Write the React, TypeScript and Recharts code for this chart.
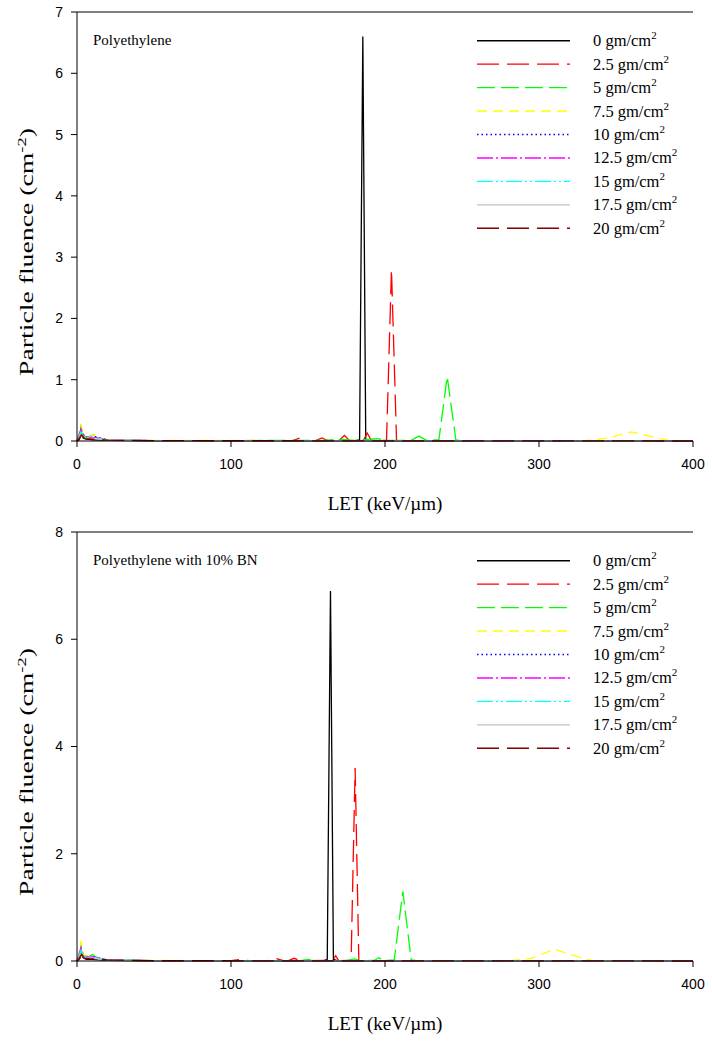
import React from 'react';
import { LineChart, Line, XAxis, YAxis, Legend, ReferenceLine } from 'recharts';

type Pt = [number, number];

// ---------- categories / labels ----------
const depthLabels = ['0', '2.5', '5', '7.5', '10', '12.5', '15', '17.5', '20'];
const xTicks = [0, 100, 200, 300, 400];
const topYTicks = [0, 1, 2, 3, 4, 5, 6, 7];
const bottomYTicks = [0, 2, 4, 6, 8];

// ---------- Polyethylene (LET keV/um, fluence cm^-2) ----------
const pe0: Pt[] = [[0, 0], [1.5, 0.02], [2.5, 0.12], [4, 0.05], [6, 0.03], [10, 0.02], [20, 0.01], [40, 0.005], [100, 0.003], [180, 0.003], [183.5, 0.02], [185.6, 6.6], [187.5, 0.02], [190, 0], [400, 0]];
const pe25: Pt[] = [[0, 0], [2, 0.05], [3, 0.15], [5, 0.07], [8, 0.05], [12, 0.04], [20, 0.015], [50, 0.005], [140, 0.005], [145, 0.05], [150, 0.005], [155, 0.005], [159, 0.05], [163, 0.005], [170, 0.005], [173.7, 0.09], [177, 0.005], [186, 0.01], [188.5, 0.13], [191, 0.01], [201, 0.01], [204.2, 2.8], [207.5, 0.01], [215, 0], [400, 0]];
const pe5: Pt[] = [[0, 0], [2, 0.08], [2.7, 0.27], [4, 0.08], [7, 0.06], [11, 0.1], [14, 0.03], [25, 0.01], [60, 0.005], [160, 0.01], [170, 0.03], [180, 0.01], [195, 0.04], [200, 0.01], [217, 0.01], [222, 0.08], [227, 0.01], [235, 0.02], [240.4, 1.05], [246, 0.02], [250, 0], [400, 0]];
const pe75: Pt[] = [[0, 0], [2.7, 0.27], [4, 0.1], [8, 0.06], [11, 0.1], [15, 0.03], [30, 0.01], [240, 0.005], [330, 0.005], [345, 0.05], [360, 0.15], [375, 0.06], [385, 0.005], [400, 0]];
const pe10: Pt[] = [[0, 0], [2.5, 0.15], [4, 0.08], [8, 0.05], [12, 0.07], [20, 0.02], [50, 0.005], [400, 0]];
const pe125: Pt[] = [[0, 0], [2.6, 0.2], [4, 0.1], [8, 0.06], [12, 0.06], [20, 0.02], [50, 0.005], [400, 0]];
const pe15: Pt[] = [[0, 0], [2.6, 0.15], [4, 0.08], [8, 0.05], [12, 0.05], [20, 0.02], [50, 0.005], [400, 0]];
const pe175: Pt[] = [[0, 0], [2.5, 0.1], [5, 0.05], [10, 0.04], [20, 0.02], [50, 0.005], [400, 0]];
const pe20: Pt[] = [[0, 0], [3, 0.1], [5, 0.04], [10, 0.03], [20, 0.015], [50, 0.005], [400, 0]];

// ---------- Polyethylene with 10% BN ----------
const bn0: Pt[] = [[0, 0], [1.5, 0.03], [2.5, 0.15], [4, 0.06], [6, 0.03], [10, 0.03], [20, 0.01], [50, 0.005], [160, 0.003], [162.5, 0.03], [164.6, 6.9], [166.5, 0.03], [170, 0], [400, 0]];
const bn25: Pt[] = [[0, 0], [2, 0.05], [3, 0.18], [5, 0.08], [8, 0.06], [11, 0.05], [20, 0.02], [50, 0.005], [100, 0.005], [106, 0.03], [112, 0.005], [124, 0.005], [129, 0.05], [134, 0.005], [137, 0.005], [141, 0.05], [145, 0.005], [166, 0.01], [168, 0.1], [170, 0.005], [178, 0.01], [180.6, 3.6], [183, 0.01], [190, 0], [400, 0]];
const bn5: Pt[] = [[0, 0], [2, 0.1], [2.7, 0.3], [4, 0.1], [7, 0.07], [10, 0.12], [14, 0.04], [25, 0.01], [60, 0.005], [145, 0.005], [150, 0.03], [155, 0.005], [175, 0.005], [180, 0.04], [185, 0.005], [193, 0.01], [196, 0.06], [199, 0.01], [206, 0.02], [211.6, 1.3], [217, 0.02], [222, 0], [400, 0]];
const bn75: Pt[] = [[0, 0], [2.7, 0.38], [4, 0.12], [8, 0.08], [10, 0.12], [14, 0.04], [30, 0.01], [200, 0.005], [280, 0.005], [295, 0.05], [310, 0.22], [325, 0.08], [335, 0.005], [400, 0]];
const bn10: Pt[] = [[0, 0], [2.5, 0.18], [4, 0.08], [8, 0.05], [11, 0.08], [20, 0.02], [50, 0.005], [400, 0]];
const bn125: Pt[] = [[0, 0], [2.6, 0.25], [4, 0.1], [8, 0.07], [11, 0.08], [20, 0.02], [50, 0.005], [400, 0]];
const bn15: Pt[] = [[0, 0], [2.6, 0.2], [4, 0.09], [8, 0.06], [11, 0.07], [20, 0.02], [50, 0.005], [400, 0]];
const bn175: Pt[] = [[0, 0], [2.5, 0.12], [5, 0.06], [10, 0.05], [20, 0.02], [50, 0.005], [400, 0]];
const bn20: Pt[] = [[0, 0], [3, 0.12], [5, 0.05], [10, 0.04], [20, 0.02], [50, 0.005], [400, 0]];

const peSeries = [pe0, pe25, pe5, pe75, pe10, pe125, pe15, pe175, pe20];
const bnSeries = [bn0, bn25, bn5, bn75, bn10, bn125, bn15, bn175, bn20];

// ---------- styles ----------
const COLORS = ['#000000', '#ff0000', '#00ff00', '#ffff00', '#0000ff', '#ff00ff', '#00ffff', '#c0c0c0', '#800000'];
const DASHES = ['', '22 8', '18 6', '10 6', '1.5 3', '16 3 2 3', '16 3 2 3 2 3', '', '22 8'];

const SERIF = '"Liberation Serif", "Times New Roman", serif';
const SANS = '"Liberation Sans", Arial, sans-serif';

const W = 712;
const H = 520;

const LegendBox = ({ title }: { title: string }) => {
  const rowY0 = 40.7;
  const step = 23.45;
  return (
    <svg width={W} height={H} style={{ display: 'block' }}>
      <text x={93} y={45} fontFamily={SERIF} fontSize={15} fill="#000">{title}</text>
      {depthLabels.map((lab, i) => {
        const y = rowY0 + i * step;
        return (
          <g key={lab}>
            <line x1={477} x2={570} y1={y} y2={y} stroke={COLORS[i]} strokeWidth={1.4} strokeDasharray={DASHES[i] || undefined} />
            <text x={593} y={y + 5.5} fontFamily={SERIF} fontSize={16.5} fill="#000">
              {lab + ' gm/cm'}
              <tspan dy={-7} fontSize={11}>2</tspan>
            </text>
          </g>
        );
      })}
    </svg>
  );
};

const XTitle = () => (
  <text x={385} y={510} textAnchor="middle" fontFamily={SERIF} fontSize={19} fill="#000">LET (keV/µm)</text>
);

const YTitle = () => (
  <text
    x={0}
    y={0}
    transform="translate(33 252) rotate(-90)"
    textAnchor="middle"
    fontFamily={SERIF}
    fontSize={18}
    fill="#000"
    textLength={248}
    lengthAdjust="spacingAndGlyphs"
  >
    Particle fluence (cm<tspan dy={-7} fontSize={12}>-2</tspan><tspan dy={7}>)</tspan>
  </text>
);

const Panel = ({ title, series, yMax, yTicks }: { title: string; series: Pt[][]; yMax: number; yTicks: number[] }) => (
  <LineChart width={W} height={H} margin={{ top: 12, right: 19, bottom: 0, left: 17 }}>
    <XAxis
      type="number"
      dataKey="x"
      domain={[0, 400]}
      ticks={xTicks}
      height={79}
      tickSize={6}
      tickMargin={12}
      axisLine={{ stroke: '#000' }}
      tickLine={{ stroke: '#000' }}
      tick={{ fill: '#000', fontFamily: SANS, fontSize: 14 }}
      label={{ content: XTitle }}
    />
    <YAxis
      type="number"
      domain={[0, yMax]}
      ticks={yTicks}
      width={60}
      tickSize={6}
      tickMargin={8}
      axisLine={{ stroke: '#000' }}
      tickLine={{ stroke: '#000' }}
      tick={{ fill: '#000', fontFamily: SANS, fontSize: 14 }}
      label={{ content: YTitle }}
    />
    <ReferenceLine y={yMax} stroke="#000" strokeWidth={1} ifOverflow="visible" />
    {series.map((pts, i) => (
      <Line
        key={depthLabels[i]}
        name={depthLabels[i] + ' gm/cm2'}
        data={pts.map(([x, y]) => ({ x, y }))}
        dataKey="y"
        type="linear"
        stroke={COLORS[i]}
        strokeWidth={1.3}
        strokeDasharray={DASHES[i] || undefined}
        dot={false}
        activeDot={false}
        isAnimationActive={false}
      />
    ))}
    <Legend
      layout="vertical"
      align="center"
      verticalAlign="middle"
      wrapperStyle={{ position: 'absolute', left: 0, top: 0, width: W, height: H, pointerEvents: 'none' }}
      content={() => <LegendBox title={title} />}
    />
  </LineChart>
);

export default function App() {
  return (
    <div style={{ position: 'absolute', left: 0, top: 0, width: 712, height: 1042, background: '#fff' }}>
      <div style={{ position: 'absolute', left: 0, top: 0 }}>
        <Panel title="Polyethylene" series={peSeries} yMax={7} yTicks={topYTicks} />
      </div>
      <div style={{ position: 'absolute', left: 0, top: 520 }}>
        <Panel title="Polyethylene with 10% BN" series={bnSeries} yMax={8} yTicks={bottomYTicks} />
      </div>
    </div>
  );
}
